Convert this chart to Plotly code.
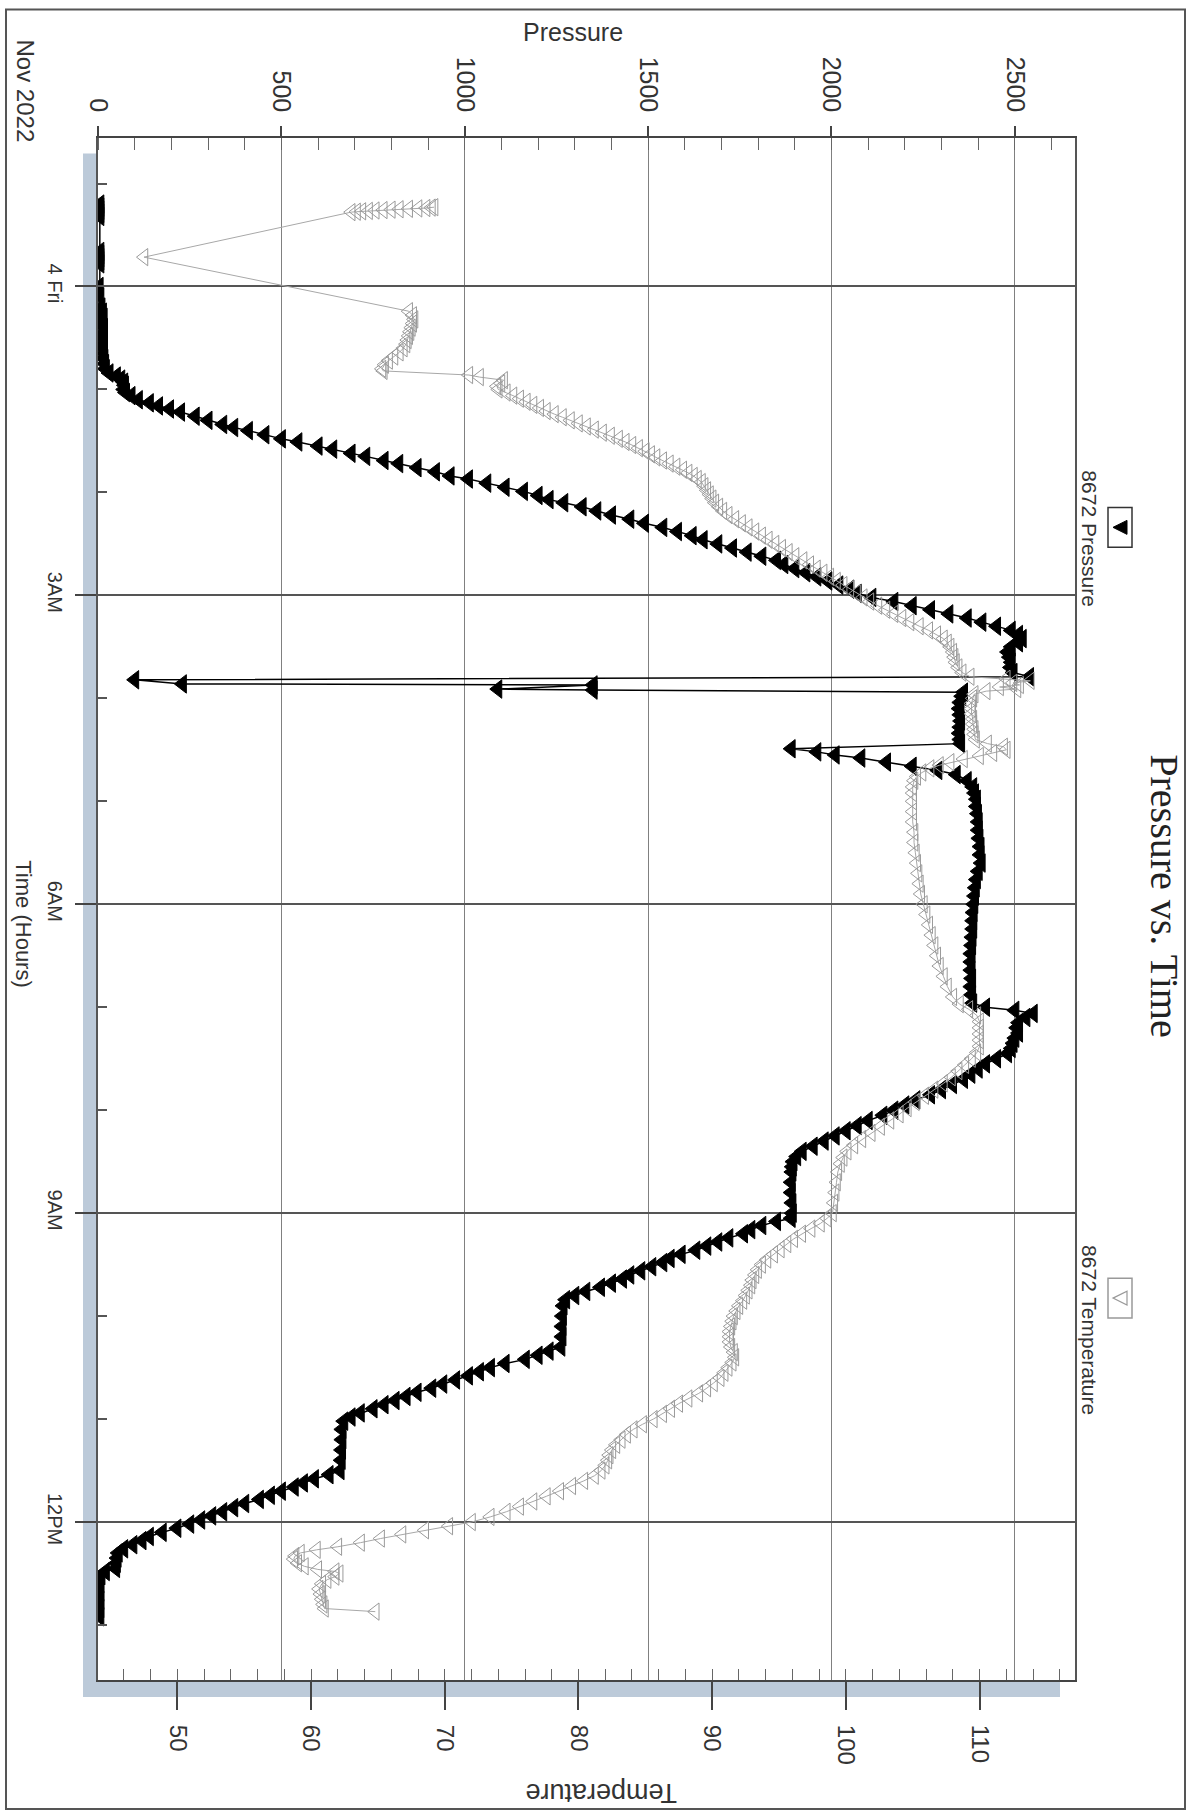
import pandas as pd
import plotly.graph_objects as go

# ---------------- data ----------------
BASE = pd.Timestamp("2022-11-04 00:00:00")

time_tick_hours = [0, 3, 6, 9, 12]
time_tick_text = ["4 Fri", "3AM", "6AM", "9AM", "12PM"]

# 8672 Pressure : hours after Nov 4 00:00, pressure
p_hours = [
    -0.80, -0.77, -0.74, -0.71, -0.68,
    -0.34, -0.31, -0.28, -0.25, -0.22,
    0.00, 0.10, 0.20, 0.25, 0.30, 0.35, 0.40, 0.45, 0.50, 0.55, 0.60, 0.65, 0.70, 0.75, 0.80,
    0.84, 0.87, 0.90, 0.93, 0.96, 1.00, 1.03, 1.06, 1.10, 1.13,
    1.16, 1.19, 1.22, 1.26, 1.30, 1.34, 1.37, 1.40, 1.44, 1.48,
    1.51, 1.55, 1.58, 1.62, 1.65, 1.69, 1.72, 1.76, 1.80, 1.84,
    1.87, 1.91, 1.95, 1.99, 2.03, 2.07, 2.10, 2.14, 2.18, 2.22,
    2.26, 2.30, 2.34, 2.38, 2.42, 2.46, 2.50, 2.54, 2.58, 2.62,
    2.66, 2.70, 2.74, 2.78, 2.82, 2.86, 2.90, 2.94, 2.98, 3.02,
    3.06, 3.10, 3.14, 3.18, 3.22, 3.26, 3.30, 3.34, 3.38, 3.42,
    3.46, 3.50, 3.55, 3.60, 3.65, 3.70, 3.75, 3.79,
    3.82, 3.86, 3.87, 3.91, 3.92, 3.94,
    3.98, 4.04, 4.10, 4.16, 4.22, 4.28, 4.34, 4.40, 4.44,
    4.49, 4.52, 4.55, 4.58, 4.62, 4.66, 4.70, 4.74, 4.80, 4.86,
    4.92, 4.98, 5.05, 5.12, 5.20, 5.28, 5.36, 5.44, 5.52, 5.60,
    5.68, 5.76, 5.84, 5.92, 6.00, 6.08, 6.16, 6.24, 6.32, 6.40,
    6.48, 6.56, 6.64, 6.72, 6.80, 6.88, 6.96,
    7.00, 7.03, 7.06, 7.10, 7.15, 7.20, 7.25, 7.30, 7.35, 7.40, 7.45,
    7.50, 7.55, 7.60, 7.65, 7.70, 7.75, 7.80, 7.85, 7.90, 7.95,
    8.00, 8.05, 8.10, 8.15, 8.20, 8.25, 8.30, 8.35, 8.40, 8.45,
    8.50, 8.55, 8.60, 8.70, 8.80, 8.90, 9.00, 9.05,
    9.08, 9.12, 9.16, 9.20, 9.24, 9.28, 9.32, 9.36, 9.40, 9.44,
    9.48, 9.52, 9.56, 9.60, 9.64, 9.68, 9.72, 9.76, 9.80, 9.84,
    9.90, 10.00, 10.10, 10.20, 10.30,
    10.34, 10.38, 10.42, 10.46, 10.50, 10.54, 10.58, 10.62, 10.66, 10.70,
    10.74, 10.78, 10.82, 10.86, 10.90, 10.94, 10.98, 11.02,
    11.10, 11.20, 11.30, 11.40, 11.50,
    11.54, 11.58, 11.62, 11.66, 11.70, 11.74, 11.78, 11.82, 11.86, 11.90,
    11.94, 11.98, 12.02, 12.06, 12.10, 12.14, 12.18, 12.22, 12.26, 12.30,
    12.35, 12.40, 12.45, 12.48, 12.52, 12.60, 12.68, 12.76, 12.84, 12.92,
]
p_psi = [
    5, 5, 5, 5, 5,
    5, 5, 5, 5, 5,
    3, 5, 8, 12, 14, 12, 15, 14, 13, 15, 14, 15, 16, 18, 20,
    30, 50, 62, 70, 72, 70, 75, 90, 110, 140,
    165, 195, 225, 265, 300, 340, 370, 410, 455, 500,
    545, 600, 640, 690, 730, 780, 820, 870, 920, 960,
    1010, 1060, 1110, 1160, 1200, 1230, 1270, 1320, 1360, 1400,
    1450, 1490, 1540, 1580, 1620, 1650, 1690, 1730, 1770, 1810,
    1850, 1870, 1900, 1930, 1960, 1990, 2020, 2050, 2070, 2110,
    2170, 2220, 2270, 2320, 2370, 2410, 2450, 2490, 2510, 2520,
    2510, 2490, 2480, 2485, 2490, 2488, 2495, 2540,
    100, 230, 1350, 1090, 1350, 2360,
    2355, 2350, 2348, 2350, 2352, 2350, 2348, 2350, 2352,
    1890, 1960, 2010, 2080, 2150, 2220, 2290, 2340, 2370, 2385,
    2390, 2395, 2395, 2398, 2400, 2400, 2402, 2405, 2405, 2408,
    2400, 2395, 2392, 2390, 2388, 2386, 2385, 2385, 2383, 2382,
    2380, 2380, 2380, 2382, 2380, 2382, 2385,
    2420, 2500, 2550, 2530, 2510, 2505, 2510, 2500, 2495, 2490, 2480,
    2450, 2420, 2400, 2380, 2360, 2330, 2300, 2270, 2230, 2200,
    2170, 2140, 2100, 2070, 2040, 2010, 1980, 1950, 1920, 1905,
    1895, 1893, 1892, 1890, 1890, 1892, 1893, 1890,
    1850, 1810, 1780, 1760, 1720, 1690, 1660, 1630, 1590, 1560,
    1540, 1510, 1480, 1450, 1430, 1400, 1370, 1330, 1300, 1275,
    1268, 1266, 1265, 1265, 1262,
    1230, 1200, 1165, 1110, 1070, 1040, 1010, 975, 940, 910,
    870, 840, 810, 780, 750, 715, 690, 670,
    665, 665, 664, 663, 660,
    630, 590, 560, 535, 500, 470, 440, 400, 370, 340,
    310, 280, 250, 215, 175, 140, 120, 95, 70, 55,
    52, 50, 48, 20, 8, 5, 5, 5, 5, 5,
]

# 8672 Temperature : hours after Nov 4 00:00, temperature
t_hours = [
    -0.770, -0.766, -0.762, -0.758, -0.754, -0.750, -0.746, -0.742, -0.738, -0.734, -0.730, -0.726, -0.722,
    -0.285,
    0.24, 0.28, 0.32, 0.36, 0.40, 0.44, 0.48, 0.52, 0.56, 0.60, 0.64, 0.68, 0.72, 0.76, 0.80, 0.82,
    0.86, 0.88, 0.91, 0.94, 0.97, 1.00,
    1.03, 1.06, 1.09, 1.12, 1.15, 1.18, 1.21, 1.24, 1.27, 1.30,
    1.33, 1.36, 1.39, 1.42, 1.45, 1.48, 1.51, 1.54, 1.57, 1.60,
    1.63, 1.66, 1.69, 1.72, 1.75, 1.78, 1.81, 1.84, 1.87, 1.90,
    1.94, 1.98, 2.02, 2.06, 2.10, 2.14, 2.18, 2.22, 2.26, 2.30,
    2.34, 2.38, 2.42, 2.46, 2.50, 2.54, 2.58, 2.62, 2.66, 2.70,
    2.74, 2.78, 2.82, 2.86, 2.90, 2.94, 2.98, 3.02, 3.06, 3.10,
    3.14, 3.18, 3.22, 3.26, 3.30, 3.34, 3.38, 3.42, 3.46, 3.50,
    3.55, 3.60, 3.65, 3.70, 3.75, 3.79, 3.81, 3.83, 3.85,
    3.87, 3.89, 3.91, 3.93, 3.96, 4.00, 4.05, 4.10, 4.15, 4.20,
    4.25, 4.30, 4.35, 4.40, 4.44, 4.47, 4.50, 4.53, 4.56, 4.59,
    4.62, 4.65, 4.68, 4.72, 4.76, 4.80, 4.86, 4.92, 5.00, 5.10,
    5.20, 5.30, 5.40, 5.50, 5.60, 5.70, 5.80, 5.90, 6.00, 6.10,
    6.20, 6.30, 6.40, 6.50, 6.60, 6.70, 6.80, 6.90, 6.97, 7.02,
    7.08, 7.14, 7.20, 7.26, 7.32, 7.38, 7.44, 7.50, 7.56, 7.62,
    7.68, 7.74, 7.80, 7.86, 7.92, 7.98, 8.04, 8.10, 8.16, 8.22,
    8.28, 8.34, 8.40, 8.46, 8.52, 8.60, 8.70, 8.80, 8.90, 9.00,
    9.05, 9.10, 9.15, 9.20, 9.25, 9.30, 9.35, 9.40, 9.45, 9.50,
    9.55, 9.60, 9.65, 9.70, 9.75, 9.80, 9.85, 9.90, 9.95, 10.00,
    10.05, 10.10, 10.15, 10.20, 10.25, 10.30, 10.35, 10.40, 10.45, 10.50,
    10.55, 10.60, 10.65, 10.70, 10.75, 10.80, 10.85, 10.90, 10.95, 11.00,
    11.05, 11.10, 11.15, 11.20, 11.25, 11.30, 11.35, 11.40, 11.45, 11.50,
    11.55, 11.60, 11.65, 11.70, 11.75, 11.80, 11.85, 11.90, 11.95, 12.00,
    12.04, 12.08, 12.12, 12.16, 12.20, 12.24, 12.27, 12.30, 12.33, 12.36,
    12.40, 12.43, 12.46, 12.48, 12.50, 12.53, 12.56, 12.60, 12.65, 12.70,
    12.75, 12.80, 12.84, 12.87,
]
t_degf = [
    69.2, 69.0, 68.6, 68.0, 67.3, 66.6, 66.0, 65.4, 64.8, 64.3, 63.8, 63.4, 63.0,
    47.5,
    67.3, 67.6, 67.7, 67.6, 67.5, 67.4, 67.3, 67.2, 67.1, 66.9, 66.6, 66.2, 65.8, 65.5, 65.3, 65.4,
    71.8, 72.6, 74.4, 74.2, 73.9, 74.0,
    74.6, 75.1, 75.6, 76.1, 76.6, 77.1, 77.6, 78.2, 78.8, 79.4,
    80.0, 80.6, 81.2, 81.8, 82.4, 83.0, 83.5, 84.0, 84.5, 85.0,
    85.4, 85.8, 86.3, 86.8, 87.3, 87.8, 88.2, 88.6, 88.9, 89.2,
    89.4, 89.6, 89.8, 90.0, 90.2, 90.5, 90.8, 91.2, 91.7, 92.2,
    92.7, 93.2, 93.7, 94.2, 94.7, 95.2, 95.7, 96.2, 96.8, 97.3,
    97.8, 98.3, 98.8, 99.3, 99.8, 100.3, 100.8, 101.3, 101.8, 102.4,
    103.0, 103.6, 104.2, 104.8, 105.5, 106.2, 106.8, 107.3, 107.6, 107.8,
    108.0, 108.1, 108.2, 108.4, 108.7, 109.3, 112.0, 113.8, 112.5,
    113.0, 111.5, 112.8, 110.5, 109.6, 109.5, 109.4, 109.4, 109.4, 109.5,
    109.5, 109.6, 109.6, 109.7, 110.6, 111.8, 112.0, 111.0, 110.0, 108.8,
    107.8, 107.0, 106.3, 105.7, 105.3, 105.1, 105.0, 105.0, 105.0, 105.0,
    105.0, 105.1, 105.1, 105.2, 105.3, 105.4, 105.5, 105.6, 105.8, 106.0,
    106.2, 106.4, 106.6, 106.8, 107.0, 107.3, 107.6, 108.0, 108.5, 109.2,
    109.8, 110.0, 110.0, 110.0, 110.0, 110.0, 109.8, 109.4, 108.9, 108.4,
    107.9, 107.3, 106.6, 105.9, 105.2, 104.6, 104.0, 103.3, 102.6, 101.9,
    101.2, 100.6, 100.1, 99.8, 99.6, 99.4, 99.3, 99.2, 99.1, 99.0,
    98.6, 98.1, 97.4, 96.7, 96.1, 95.6, 95.1, 94.6, 94.1, 93.7,
    93.4, 93.2, 93.0, 92.9, 92.7, 92.5, 92.3, 92.0, 91.8, 91.6,
    91.5, 91.4, 91.3, 91.3, 91.3, 91.4, 91.6, 91.7, 91.5, 91.2,
    90.9, 90.6, 90.1, 89.6, 89.0, 88.2, 87.5, 86.9, 86.3, 85.6,
    84.8, 84.1, 83.6, 83.2, 82.8, 82.5, 82.3, 82.2, 82.0, 81.7,
    81.2, 80.4, 79.5, 78.6, 77.6, 76.6, 75.6, 74.6, 73.4, 72.0,
    70.3, 68.5, 66.8, 65.2, 63.7, 62.0, 60.4, 59.2, 58.8, 58.7,
    59.0, 59.5, 60.5, 61.8, 62.1, 61.8, 61.2, 60.8, 60.6, 60.7,
    60.8, 60.9, 61.0, 64.8,
]

assert len(p_hours) == len(p_psi), (len(p_hours), len(p_psi))
assert len(t_hours) == len(t_degf), (len(t_hours), len(t_degf))


def to_time(hours):
    return [BASE + pd.Timedelta(hours=h) for h in hours]


# ---------------- layout geometry (pixels) ----------------
W, H = 1200, 1818
PL, PR, PT, PB = 98, 1075, 137.5, 1680   # plot area edges
PW, PH = PR - PL, PB - PT


def px(x):
    return (x - PL) / PW


def py(y):
    return (PB - y) / PH


FONT = "Liberation Sans, Arial, sans-serif"
INK = "#333333"

fig = go.Figure()

fig.add_trace(go.Scatter(
    x=p_psi, y=to_time(p_hours), xaxis="x", yaxis="y",
    mode="lines+markers", name="8672 Pressure",
    line=dict(color="black", width=1.5),
    marker=dict(symbol="triangle-left", size=16, color="black",
                line=dict(color="black", width=1)),
))
fig.add_trace(go.Scatter(
    x=t_degf, y=to_time(t_hours), xaxis="x2", yaxis="y",
    mode="lines+markers", name="8672 Temperature",
    line=dict(color="#a8a8a8", width=1),
    marker=dict(symbol="triangle-left-open", size=15, color="#9a9a9a",
                line=dict(color="#9a9a9a", width=1)),
))

y_top = BASE + pd.Timedelta(hours=-1.442)
y_bot = BASE + pd.Timedelta(hours=13.534)

fig.update_layout(
    width=W, height=H,
    margin=dict(l=PL, r=W - PR, t=PT, b=H - PB, pad=0),
    paper_bgcolor="white", plot_bgcolor="white",
    showlegend=False,
    font=dict(family=FONT, color=INK),
    xaxis=dict(
        side="top", range=[0, 2664], tick0=0, dtick=500,
        ticks="outside", ticklen=10, tickwidth=1.5, tickcolor="#444",
        tickangle=90, tickfont=dict(size=25, color=INK, family=FONT),
        ticklabelstandoff=5,
        showgrid=True, gridcolor="#808080", gridwidth=1,
        zeroline=False, showline=True, linecolor="#444", linewidth=2,
        minor=dict(tick0=0, dtick=100, ticks="inside", ticklen=12,
                   tickcolor="#666", tickwidth=1, showgrid=False),
        automargin=False, fixedrange=True,
    ),
    xaxis2=dict(
        overlaying="x", side="bottom", anchor="y",
        range=[44.06, 117.14], tick0=50, dtick=10,
        ticks="outside", ticklen=28, tickwidth=1.5, tickcolor="#444",
        tickangle=90, tickfont=dict(size=24, color=INK, family=FONT),
        ticklabelstandoff=10,
        showgrid=False, zeroline=False, showline=True, linecolor="#444", linewidth=2,
        minor=dict(tick0=50, dtick=2, ticks="inside", ticklen=11,
                   tickcolor="#666", tickwidth=1, showgrid=False),
        automargin=False, fixedrange=True,
    ),
    yaxis=dict(
        type="date", range=[y_bot, y_top],
        tickmode="array", tickvals=to_time(time_tick_hours), ticktext=time_tick_text,
        ticks="outside", ticklen=21, tickwidth=1.5, tickcolor="#444",
        tickangle=90, tickfont=dict(size=20, color=INK, family=FONT),
        ticklabelstandoff=3,
        showgrid=True, gridcolor="#555555", gridwidth=1.5,
        zeroline=False, showline=True, mirror=True, linecolor="#555", linewidth=1.5,
        minor=dict(dtick=3600000, ticks="inside", ticklen=9,
                   tickcolor="#555", tickwidth=1.5, showgrid=False),
        automargin=False, fixedrange=True,
    ),
)

band = "#bccad9"
shapes = [
    # outer frame
    dict(type="rect", xref="paper", yref="paper",
         x0=px(6), x1=px(1185), y0=py(1809), y1=py(9),
         line=dict(color="#555555", width=2), fillcolor="rgba(0,0,0,0)", layer="below"),
    # left shaded band
    dict(type="rect", xref="paper", yref="paper",
         x0=px(83), x1=px(97.5), y0=py(1697), y1=py(153),
         line=dict(width=0), fillcolor=band, layer="below"),
    # bottom shaded band
    dict(type="rect", xref="paper", yref="paper",
         x0=px(83), x1=px(1060), y0=py(1697), y1=py(1681),
         line=dict(width=0), fillcolor=band, layer="below"),
    # legend boxes
    dict(type="rect", xref="paper", yref="paper",
         x0=px(1108), x1=px(1132), y0=py(547), y1=py(507),
         line=dict(color="#333333", width=1.5), fillcolor="white"),
    dict(type="rect", xref="paper", yref="paper",
         x0=px(1108), x1=px(1132), y0=py(1318), y1=py(1278),
         line=dict(color="#999999", width=1.5), fillcolor="white"),
]


def tri_path(cx, cy, w=14, h=14):
    ax, ay = px(cx - w / 2), py(cy)
    bx, by1, by2 = px(cx + w / 2), py(cy - h / 2), py(cy + h / 2)
    return f"M {ax} {ay} L {bx} {by1} L {bx} {by2} Z"


shapes.append(dict(type="path", xref="paper", yref="paper", path=tri_path(1120, 527),
                   fillcolor="black", line=dict(color="black", width=1)))
shapes.append(dict(type="path", xref="paper", yref="paper", path=tri_path(1120, 1298),
                   fillcolor="rgba(0,0,0,0)", line=dict(color="#999999", width=1.2)))
fig.update_layout(shapes=shapes)


def ann(text, x, y, size, angle=0, family=FONT, color=INK):
    return dict(text=text, x=px(x), y=py(y), xref="paper", yref="paper",
                showarrow=False, textangle=angle, xanchor="center", yanchor="middle",
                font=dict(size=size, family=family, color=color))


fig.update_layout(annotations=[
    ann("Pressure", 573, 31, 25),
    ann("Nov 2022", 25, 90, 24, 90),
    ann("Time (Hours)", 24, 924, 22, 90),
    ann("Temperature", 601, 1793, 27, 180),
    ann("Pressure vs. Time", 1165, 895, 40, 90,
        family="Liberation Serif, Times New Roman, serif", color="#222222"),
    ann("8672 Pressure", 1090, 538, 21, 90),
    ann("8672 Temperature", 1090, 1330, 21, 90),
])

fig.write_html("out.html", post_script="document.body.style.margin='0';",
               config={"displayModeBar": False})
